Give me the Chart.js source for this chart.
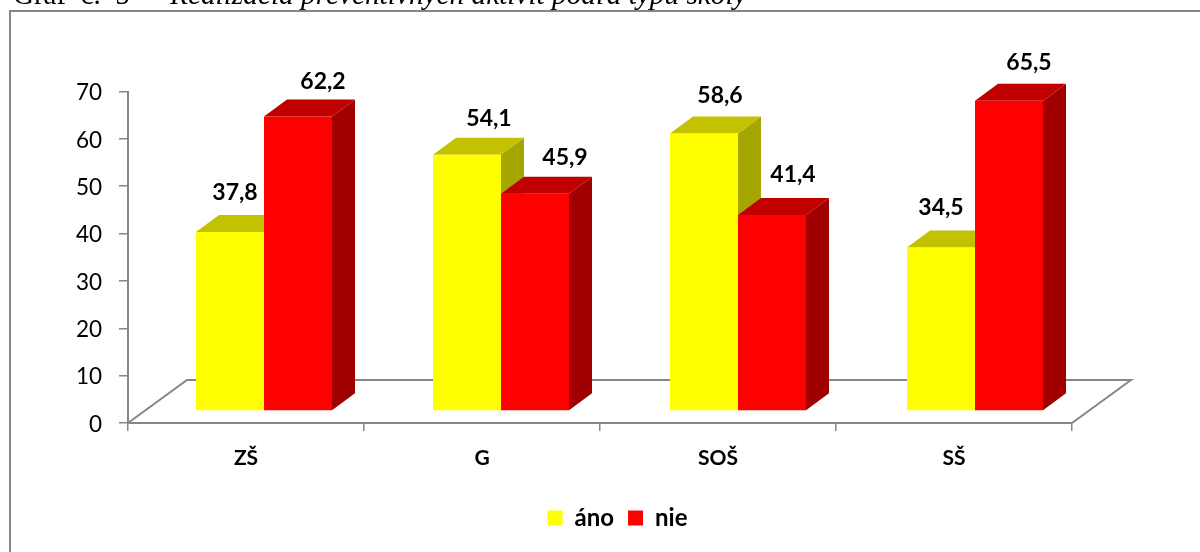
<!DOCTYPE html>
<html lang="sk">
<head>
<meta charset="utf-8">
<title>Graf č. 5</title>
<script src="https://cdn.jsdelivr.net/npm/chart.js@4"></script>
<style>
    html, body { margin: 0; padding: 0; background: #fff; overflow: hidden; }
    #obal { position: relative; width: 1200px; height: 552px; }
</style>
</head>
<body>
<div id="obal"><canvas id="chart-aktivity"></canvas></div>
<script>
const skoly = ['ZŠ', 'G', 'SOŠ', 'SŠ'];
const ano = [37.8, 54.1, 58.6, 34.5];
const nie = [62.2, 45.9, 41.4, 65.5];
const osY = [0, 10, 20, 30, 40, 50, 60, 70];

const ano3d = { predna: '#ffff00', vrch: '#c2c200', bok: '#a6a600' };
const nie3d = { predna: '#ff0000', vrch: '#c00000', bok: '#a00000' };
const farby3d = [ano3d, nie3d];

// posun popisov oproti hornemu stredu prednej steny [x, y]
const posunPopisov = [
    [[5, -39], [22, -36], [16, -38], [0, -40]],
    [[25, -35], [30, -36], [21, -40], [20, -38]]
];

const sedaOs = '#868686';
const hlbkaStlpca = { x: 23, y: 17 };
const hlbkaPodlahy = { x: 59, y: 43 };

function polygon(ctx, body, farba) {
    ctx.beginPath();
    ctx.moveTo(body[0][0], body[0][1]);
    for (let i = 1; i < body.length; ++i) {
        ctx.lineTo(body[i][0], body[i][1]);
    }
    ctx.closePath();
    ctx.fillStyle = farba;
    ctx.fill();
}

const plugin3d = {
    id: 'plugin3d',
    // stlpce su v 3D posunute od osi doprava a hore
    afterDatasetsUpdate(chart) {
        chart.data.datasets.forEach(function(ds, d) {
            chart.getDatasetMeta(d).data.forEach(function(bar, i) {
                bar.x += 18 + i;
                bar.y -= 12;
                bar.base -= 12;
            });
        });
    },
    afterLayout(chart) {
        chart.legend.left += 81.5;
        chart.legend.right += 81.5;
    },
    beforeDatasetsDraw(chart) {
        const ctx = chart.ctx;
        const a = chart.chartArea;

        // podlaha
        ctx.save();
        ctx.strokeStyle = sedaOs;
        ctx.lineWidth = 2;
        ctx.beginPath();
        ctx.moveTo(a.left, a.bottom);
        ctx.lineTo(a.left + hlbkaPodlahy.x, a.bottom - hlbkaPodlahy.y);
        ctx.lineTo(a.right + hlbkaPodlahy.x, a.bottom - hlbkaPodlahy.y);
        ctx.lineTo(a.right, a.bottom);
        ctx.stroke();
        ctx.restore();

        // poradie: ano pod nie, aby bok zlteho stlpca zakryl cerveny
        chart.data.datasets.forEach(function(ds, d) {
            const meta = chart.getDatasetMeta(d);
            meta.data.forEach(function(bar) {
                const l = bar.x - bar.width / 2;
                const r = bar.x + bar.width / 2;
                const dx = hlbkaStlpca.x;
                const dy = hlbkaStlpca.y;
                polygon(ctx, [[r, bar.y], [r + dx, bar.y - dy], [r + dx, bar.base - dy], [r, bar.base]], farby3d[d].bok);
                polygon(ctx, [[l, bar.y], [l + dx, bar.y - dy], [r + dx, bar.y - dy], [r, bar.y]], farby3d[d].vrch);
            });
            meta.controller.draw();
        });
        return false;
    },
    afterDraw(chart) {
        const ctx = chart.ctx;
        ctx.save();

        // ramik okolo grafu, vpravo a dole je orezany
        ctx.strokeStyle = sedaOs;
        ctx.lineWidth = 2;
        ctx.beginPath();
        ctx.moveTo(10, 552);
        ctx.lineTo(10, 11);
        ctx.lineTo(1200, 11);
        ctx.stroke();

        // hodnoty nad stlpcami
        ctx.fillStyle = '#000';
        ctx.font = 'bold 23px Lato';
        ctx.textAlign = 'center';
        ctx.textBaseline = 'middle';
        chart.data.datasets.forEach(function(ds, d) {
            chart.getDatasetMeta(d).data.forEach(function(bar, i) {
                const text = String(ds.data[i]).replace('.', ',');
                ctx.fillText(text, bar.x + posunPopisov[d][i][0], bar.y + posunPopisov[d][i][1]);
            });
        });

        // nadpis nad ramikom
        ctx.textAlign = 'left';
        ctx.textBaseline = 'alphabetic';
        ctx.font = '29px "Liberation Serif"';
        ctx.fillText('Graf  č.  5', 13, 4);
        ctx.font = 'italic 29.3px "Liberation Serif"';
        ctx.fillText('Realizácia preventívnych aktivít podľa typu školy', 170, 4);
        ctx.restore();
    }
};

new Chart(document.getElementById('chart-aktivity').getContext('2d'), {
    type: 'bar',
    data: {
        labels: skoly,
        datasets: [
            { label: 'áno', data: ano, backgroundColor: ano3d.predna, borderWidth: 0 },
            { label: 'nie', data: nie, backgroundColor: nie3d.predna, borderWidth: 0 }
        ]
    },
    options: {
        responsive: true,
        maintainAspectRatio: false,
        animation: false,
        layout: { padding: { left: 0, right: 128, top: 91.5, bottom: 12 } },
        categoryPercentage: 136 / 236,
        barPercentage: 1,
        scales: {
            x: {
                afterFit(scale) { scale.height = 69; },
                border: { color: sedaOs, width: 2 },
                grid: { drawOnChartArea: false, color: sedaOs, lineWidth: 1.5, tickLength: 8, offset: true },
                ticks: {
                    color: '#000',
                    font: { family: 'Lato', size: 21, weight: 'bold' },
                    padding: 15
                }
            },
            y: {
                min: 0,
                max: 70,
                afterFit(scale) { scale.width = 128; },
                afterBuildTicks(scale) { scale.ticks = osY.map(function(v) { return { value: v }; }); },
                border: { color: sedaOs, width: 2 },
                grid: { drawOnChartArea: false, color: sedaOs, lineWidth: 1.5, tickLength: 9 },
                ticks: {
                    color: '#000',
                    font: { family: 'Lato', size: 22.5 },
                    padding: 17,
                    labelOffset: 1.5
                }
            }
        },
        plugins: {
            legend: {
                position: 'bottom',
                labels: {
                    color: '#000',
                    boxWidth: 15,
                    boxHeight: 15,
                    padding: 14,
                    font: { family: 'Lato', size: 24, weight: 'bold' }
                }
            },
            title: { display: false },
            tooltip: { enabled: false }
        }
    },
    plugins: [plugin3d]
});
</script>
</body>
</html>
